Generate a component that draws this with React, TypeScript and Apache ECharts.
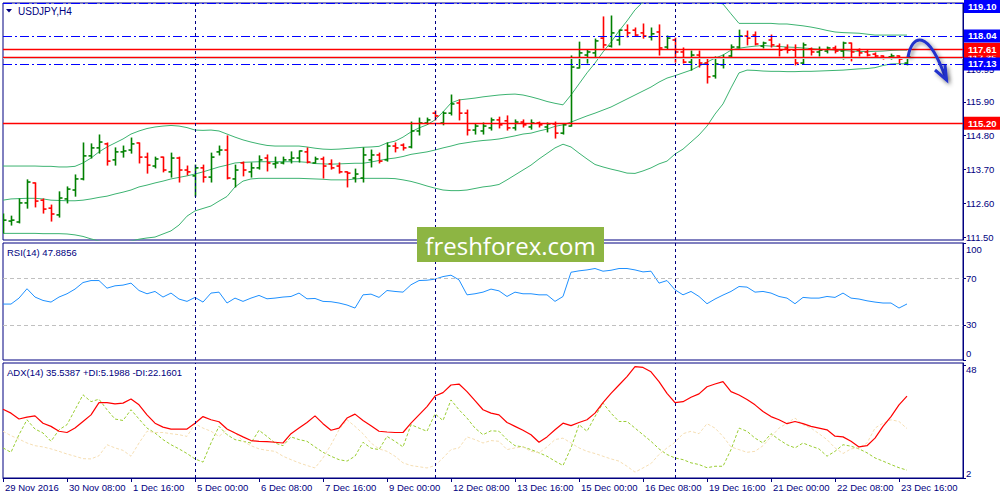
import { useEffect, useRef } from "react";
import * as echarts from "echarts";

// USDJPY H4 bars
const OPEN = [
  111.79, 112.02, 111.99, 112.61, 113.26, 112.7, 112.44, 112.22, 112.74, 113.03,
  113.39, 114.14, 114.4, 114.53, 114.01, 114.27, 114.33, 114.56, 114.1, 113.81,
  114.1, 113.62, 114.07, 113.68, 113.49, 113.75, 113.45, 114.27, 114.33, 113.39,
  113.91, 113.62, 113.75, 114.07, 113.88, 113.91, 114.01, 114.07, 114.27, 113.91,
  114.04, 113.88, 113.81, 113.62, 113.42, 113.42, 114.01, 114.17, 114.01, 114.46,
  114.49, 114.43, 114.95, 115.21, 115.53, 115.21, 115.53, 115.86, 115.53, 114.98,
  114.95, 115.05, 115.31, 115.28, 115.05, 115.24, 115.08, 115.21, 115.08, 115.18,
  114.88, 115.11, 117.0, 117.42, 117.49, 117.97, 117.71, 117.91, 118.23, 118.23,
  118.14, 118.01, 118.17, 117.68, 117.91, 117.52, 117.19, 117.42, 117.16, 116.74,
  117.1, 117.39, 117.68, 118.04, 118.07, 117.71, 117.91, 117.71, 117.65, 117.58,
  117.16, 117.62, 117.52, 117.55, 117.65, 117.55, 117.81, 117.58, 117.52, 117.45,
  117.39, 117.36, 117.39, 117.16,
];
const HIGH = [
  112.25, 112.18, 112.74, 113.36, 113.26, 112.74, 112.54, 112.97, 113.13, 113.52,
  114.56, 114.53, 114.82, 114.56, 114.4, 114.46, 114.72, 114.56, 114.23, 114.1,
  114.1, 114.23, 114.1, 113.81, 113.84, 113.84, 114.23, 114.46, 114.79, 113.84,
  113.94, 113.91, 114.14, 114.17, 114.1, 114.1, 114.27, 114.3, 114.4, 114.1,
  114.1, 114.01, 113.91, 113.62, 113.71, 114.4, 114.33, 114.23, 114.56, 114.56,
  114.53, 115.24, 115.37, 115.37, 115.6, 115.57, 116.12, 115.96, 115.63, 115.18,
  115.21, 115.37, 115.4, 115.44, 115.31, 115.31, 115.31, 115.24, 115.21, 115.24,
  115.18, 117.39, 117.84, 117.58, 117.94, 118.66, 118.69, 118.23, 118.4, 118.3,
  118.43, 118.3, 118.4, 118.04, 117.97, 117.65, 117.55, 117.55, 117.29, 117.36,
  117.42, 117.75, 118.23, 118.2, 118.17, 117.84, 118.07, 117.78, 117.75, 117.75,
  117.81, 117.65, 117.68, 117.68, 117.71, 117.84, 117.81, 117.62, 117.58, 117.49,
  117.39, 117.45, 117.39, 117.36,
];
const LOW = [
  111.63, 111.89, 111.96, 112.44, 112.48, 112.28, 112.02, 112.15, 112.61, 112.83,
  113.36, 114.07, 114.23, 113.84, 113.84, 114.1, 114.23, 113.91, 113.58, 113.75,
  113.62, 113.45, 113.29, 113.52, 112.83, 113.29, 113.29, 114.17, 113.39, 113.13,
  113.49, 113.45, 113.71, 113.65, 113.75, 113.88, 113.91, 113.94, 113.91, 113.91,
  113.42, 113.71, 113.58, 113.13, 113.29, 113.29, 113.78, 113.91, 113.97, 114.27,
  114.33, 114.4, 114.82, 115.18, 115.31, 115.15, 115.47, 115.31, 114.82, 114.85,
  114.85, 114.98, 115.05, 114.98, 114.98, 115.08, 115.01, 115.08, 114.92, 114.72,
  114.85, 115.11, 117.0, 117.16, 117.36, 117.65, 117.68, 117.75, 118.01, 118.04,
  117.97, 117.91, 117.42, 117.62, 117.19, 117.16, 116.93, 117.03, 116.51, 116.67,
  117.0, 117.36, 117.65, 117.75, 117.75, 117.65, 117.68, 117.39, 117.49, 117.1,
  117.13, 117.42, 117.39, 117.49, 117.49, 117.29, 117.23, 117.39, 117.39, 117.36,
  117.29, 117.29, 117.16, 117.1,
];
const CLOSE = [
  112.05, 112.05, 112.61, 113.29, 112.67, 112.41, 112.25, 112.77, 113.06, 113.39,
  114.14, 114.4, 114.59, 113.97, 114.27, 114.3, 114.53, 114.1, 113.84, 114.04,
  113.68, 114.07, 113.68, 113.62, 113.75, 113.45, 114.1, 114.33, 113.42, 113.68,
  113.68, 113.75, 114.01, 113.91, 113.91, 114.01, 114.07, 114.3, 113.94, 114.04,
  113.81, 113.75, 113.62, 113.58, 113.55, 114.17, 114.17, 113.97, 114.46, 114.4,
  114.4, 114.95, 115.21, 115.31, 115.44, 115.53, 115.83, 115.53, 114.98, 115.11,
  115.11, 115.31, 115.15, 115.05, 115.24, 115.15, 115.21, 115.15, 115.18, 114.88,
  115.15, 117.03, 117.49, 117.52, 117.88, 117.75, 118.14, 118.23, 118.14, 118.07,
  118.04, 118.11, 117.65, 117.97, 117.52, 117.19, 117.42, 117.16, 116.71, 117.13,
  117.32, 117.68, 118.04, 117.97, 117.78, 117.81, 117.75, 117.58, 117.58, 117.16,
  117.75, 117.52, 117.58, 117.65, 117.55, 117.81, 117.52, 117.49, 117.42, 117.39,
  117.32, 117.39, 117.29, 117.36,
];

// Bollinger bands
const BB_UPPER = [
  113.81, 113.81, 113.81, 113.81, 113.81, 113.8, 113.8, 113.78, 113.78, 113.8,
  113.91, 114.07, 114.27, 114.43, 114.56, 114.69, 114.85, 114.95, 115.03, 115.08,
  115.11, 115.13, 115.11, 115.06, 114.98, 114.97, 114.98, 114.95, 114.85, 114.75,
  114.66, 114.59, 114.53, 114.48, 114.46, 114.46, 114.46, 114.46, 114.43, 114.39,
  114.36, 114.35, 114.36, 114.38, 114.4, 114.42, 114.43, 114.45, 114.56, 114.62,
  114.75, 114.92, 115.05, 115.15, 115.31, 115.57, 115.86, 115.96, 115.99, 116.02,
  116.06, 116.09, 116.12, 116.14, 116.15, 116.12, 116.06, 115.99, 115.91, 115.85,
  115.8, 116.12, 116.48, 116.84, 117.16, 117.52, 117.84, 118.2, 118.53, 118.89,
  119.15, 119.34, 119.47, 119.54, 119.54, 119.47, 119.34, 119.24, 119.18, 119.15,
  119.08, 118.76, 118.45, 118.45, 118.45, 118.45, 118.45, 118.43, 118.43, 118.4,
  118.37, 118.33, 118.28, 118.22, 118.17, 118.15, 118.14, 118.13, 118.1, 118.07,
  118.07, 118.07, 118.07, 118.07,
];
const BB_MIDDLE = [
  112.7, 112.74, 112.75, 112.76, 112.76, 112.74, 112.7, 112.69, 112.68, 112.68,
  112.7, 112.74, 112.79, 112.83, 112.9, 112.96, 113.03, 113.13, 113.19, 113.26,
  113.32, 113.39, 113.44, 113.49, 113.55, 113.62, 113.7, 113.78, 113.84, 113.91,
  113.93, 113.94, 113.95, 113.95, 113.95, 113.95, 113.95, 113.95, 113.93, 113.89,
  113.88, 113.87, 113.88, 113.89, 113.9, 113.9, 113.94, 113.99, 114.04, 114.07,
  114.12, 114.19, 114.23, 114.27, 114.33, 114.4, 114.46, 114.53, 114.57, 114.61,
  114.64, 114.66, 114.69, 114.74, 114.79, 114.85, 114.88, 114.95, 115.01, 115.1,
  115.15, 115.24, 115.34, 115.44, 115.53, 115.63, 115.73, 115.86, 115.99, 116.12,
  116.25, 116.38, 116.54, 116.67, 116.75, 116.84, 116.93, 117.06, 117.19, 117.32,
  117.42, 117.58, 117.64, 117.68, 117.71, 117.73, 117.71, 117.7, 117.68, 117.67,
  117.65, 117.63, 117.61, 117.6, 117.58, 117.57, 117.55, 117.54, 117.53, 117.54,
  117.55, 117.57, 117.58, 117.58,
];
const BB_LOWER = [
  111.62, 111.62, 111.62, 111.62, 111.62, 111.61, 111.61, 111.61, 111.6, 111.57,
  111.52, 111.44, 111.37, 111.32, 111.31, 111.32, 111.37, 111.43, 111.47, 111.5,
  111.6, 111.7, 111.89, 112.18, 112.35, 112.43, 112.51, 112.67, 112.82, 113.13,
  113.32, 113.39, 113.41, 113.41, 113.41, 113.41, 113.41, 113.41, 113.4, 113.39,
  113.38, 113.36, 113.36, 113.36, 113.39, 113.41, 113.41, 113.41, 113.41, 113.4,
  113.36, 113.31, 113.24, 113.16, 113.09, 113.03, 113.01, 113.01, 113.03, 113.08,
  113.13, 113.16, 113.21, 113.36, 113.52, 113.68, 113.84, 114.04, 114.22, 114.4,
  114.52, 114.43, 114.23, 114.04, 113.86, 113.78, 113.71, 113.65, 113.58, 113.57,
  113.65, 113.75, 113.88, 113.97, 114.2, 114.36, 114.59, 114.82, 115.11, 115.5,
  115.83, 116.35, 116.84, 116.93, 116.92, 116.9, 116.89, 116.89, 116.88, 116.88,
  116.89, 116.89, 116.9, 116.91, 116.92, 116.93, 116.95, 116.97, 116.98, 117.01,
  117.08, 117.13, 117.14, 117.13,
];

const RSI = [
  47.8, 47.8, 52.9, 60.9, 53.8, 50.9, 49.5, 53.8, 56.6, 60.6,
  66.2, 67.9, 67.9, 61.4, 63.4, 64.0, 65.7, 59.4, 56.6, 58.6,
  53.8, 57.2, 52.1, 50.1, 53.5, 49.5, 57.2, 58.0, 48.7, 52.9,
  50.1, 52.9, 55.2, 52.3, 52.9, 53.8, 54.3, 57.2, 52.3, 52.6,
  50.1, 49.8, 48.7, 47.0, 44.4, 55.7, 56.3, 53.5, 59.4, 58.6,
  58.0, 64.3, 67.9, 68.2, 69.1, 71.3, 72.5, 68.5, 55.7, 56.6,
  58.0, 60.6, 59.1, 54.3, 58.0, 56.6, 56.6, 55.7, 55.7, 50.1,
  54.3, 75.0, 76.2, 77.0, 78.2, 75.9, 76.7, 78.2, 78.2, 77.0,
  75.3, 75.9, 65.7, 67.9, 60.0, 55.7, 58.6, 54.3, 48.1, 52.1,
  55.5, 58.6, 62.8, 62.3, 58.0, 58.6, 57.2, 54.3, 52.9, 48.1,
  53.5, 52.9, 52.9, 54.3, 53.5, 57.2, 52.9, 52.1, 50.6, 49.5,
  48.7, 48.7, 44.4, 47.9,
];

const ADX = [
  30.1, 28.5, 26.1, 26.9, 27.4, 24.4, 23.1, 21.1, 20.6, 22.4,
  25.1, 27.8, 32.8, 32.8, 32.3, 32.6, 34.3, 31.9, 27.8, 24.4,
  22.8, 22.0, 22.0, 22.0, 24.4, 27.1, 25.8, 25.0, 22.0, 20.4,
  18.8, 17.3, 17.0, 16.9, 16.6, 16.3, 20.1, 22.4, 24.7, 27.4,
  24.2, 21.5, 22.4, 26.5, 28.1, 25.5, 23.4, 21.1, 20.8, 20.6,
  20.6, 24.4, 27.8, 31.2, 35.5, 36.9, 40.0, 40.4, 37.3, 33.6,
  29.9, 28.5, 27.8, 24.7, 23.1, 21.5, 19.7, 16.6, 18.8, 21.7,
  24.4, 23.4, 24.7, 25.8, 28.5, 32.8, 36.6, 40.0, 43.4, 47.5,
  47.2, 45.4, 41.4, 36.6, 32.8, 33.2, 35.0, 36.4, 39.3, 40.4,
  41.4, 37.3, 35.9, 34.1, 31.9, 29.2, 27.1, 25.8, 24.2, 25.1,
  24.2, 23.1, 22.4, 21.7, 19.1, 18.8, 17.0, 14.7, 15.2, 18.3,
  23.1, 27.1, 31.9, 35.5,
];
const PLUS_DI = [
  14.3, 12.5, 19.7, 25.8, 22.0, 20.4, 17.0, 21.7, 23.8, 29.9,
  36.0, 33.2, 34.2, 29.9, 26.1, 25.5, 29.9, 26.1, 22.4, 20.4,
  17.7, 15.6, 13.9, 12.0, 9.8, 8.5, 16.3, 23.1, 19.7, 17.7,
  17.0, 16.3, 21.5, 19.0, 16.3, 15.2, 18.8, 17.7, 17.0, 14.7,
  12.5, 10.9, 9.5, 8.9, 10.9, 16.6, 14.2, 13.6, 19.0, 17.0,
  14.7, 23.8, 22.4, 21.1, 28.2, 25.5, 33.9, 29.9, 26.5, 22.4,
  19.7, 21.3, 21.1, 17.7, 15.2, 14.7, 13.6, 12.3, 10.9, 8.9,
  7.1, 14.3, 23.8, 21.1, 27.1, 32.6, 28.5, 25.1, 25.1, 22.4,
  19.7, 17.0, 13.9, 11.6, 10.2, 9.5, 8.2, 7.5, 6.2, 6.8,
  6.8, 13.6, 22.4, 21.1, 18.3, 16.3, 20.1, 17.7, 15.6, 14.3,
  16.3, 15.0, 13.9, 10.9, 12.9, 15.6, 15.0, 13.9, 12.3, 10.2,
  8.9, 7.5, 6.2, 5.2,
];
const MINUS_DI = [
  21.1, 19.3, 17.9, 16.3, 15.2, 14.7, 13.9, 12.9, 11.8, 10.9,
  9.9, 9.8, 11.1, 15.6, 14.3, 13.3, 10.9, 16.3, 21.1, 20.6,
  20.6, 20.1, 19.7, 19.0, 24.2, 22.4, 21.1, 19.0, 21.7, 20.6,
  17.0, 15.2, 13.9, 13.3, 12.9, 10.9, 9.5, 8.2, 7.1, 6.1,
  10.2, 15.6, 21.7, 25.8, 23.1, 20.1, 16.3, 13.9, 12.9, 10.9,
  8.2, 7.1, 6.6, 6.1, 7.1, 10.2, 13.6, 14.3, 18.8, 17.7,
  16.3, 17.3, 17.0, 13.6, 14.3, 14.7, 12.9, 12.3, 14.7, 17.7,
  18.3, 16.3, 14.3, 12.9, 12.0, 10.9, 9.8, 8.9, 6.8, 4.4,
  6.1, 7.9, 11.6, 14.3, 16.6, 20.1, 21.1, 20.1, 24.2, 22.4,
  19.0, 14.7, 13.6, 12.5, 12.9, 15.2, 18.8, 22.4, 24.4, 26.5,
  23.8, 22.4, 20.1, 17.7, 14.3, 12.0, 13.9, 14.3, 16.3, 22.4,
  24.4, 25.8, 25.1, 22.2,
];

// horizontal levels drawn on the price pane
const RED_LEVELS = [115.2, 117.35, 117.61];
const BLUE_LEVELS = [119.1, 118.04, 117.13];
const BID = 117.32;

const PRICE_TICKS = [111.5, 112.6, 113.7, 114.8, 115.9, 116.95];
const RSI_TICKS = [0, 30, 70, 100];
const RSI_LEVELS = [30, 70];
const ADX_TICKS = [2, 48];

// weekly separators (Monday 00:00 bars)
const WEEK_STARTS = [24, 54, 84];

const MONTHS = ["Jan", "Feb", "Mar", "Apr", "May", "Jun", "Jul", "Aug", "Sep", "Oct", "Nov", "Dec"];

// H4 bar times from 29 Nov 2016, weekends skipped
function buildCategories(count: number) {
  const out: string[] = [];
  let t = Date.UTC(2016, 10, 29, 0);
  while (out.length < count) {
    const d = new Date(t);
    const wd = d.getUTCDay();
    if (wd !== 0 && wd !== 6) {
      const hh = String(d.getUTCHours()).padStart(2, "0");
      out.push(
        out.length === 0
          ? `${d.getUTCDate()} ${MONTHS[d.getUTCMonth()]} ${d.getUTCFullYear()}`
          : `${d.getUTCDate()} ${MONTHS[d.getUTCMonth()]} ${hh}:00`
      );
    }
    t += 4 * 3600 * 1000;
  }
  return out;
}

const CATEGORIES = buildCategories(121);

const NAVY = "#000080";
const GREEN = "#008000";
const RED = "#ff0000";
const BLUE = "#0000ff";
const BAND = "#3cb371";
const FONT = '"Liberation Sans", Arial, sans-serif';

export default function App() {
  const chartRef = useRef<HTMLDivElement>(null);

  useEffect(() => {
    if (!chartRef.current) return;
    const chart = echarts.init(chartRef.current, null, { renderer: "svg" });

    const showTick = (idx: number) => idx % 8 === 0 && idx <= 112;
    const baseX = (gridIndex: number) => ({
      type: "category",
      gridIndex,
      data: CATEGORIES,
      boundaryGap: false,
      show: gridIndex === 2,
      axisLine: { show: true, lineStyle: { color: NAVY } },
      axisTick: { show: true, interval: (i: number) => showTick(i), length: 4, lineStyle: { color: NAVY } },
      axisLabel: {
        interval: (i: number) => showTick(i),
        align: "left",
        padding: [0, 0, 0, 2],
        margin: 4,
        color: NAVY,
        fontSize: 9.5,
        fontFamily: FONT,
      },
      splitLine: { show: false },
    });

    const labelStyle = { color: NAVY, fontSize: 9.5, fontFamily: FONT };
    const weekLines = {
      symbol: "none",
      silent: true,
      label: { show: false },
      lineStyle: { color: NAVY, type: [3, 3], width: 1 },
      data: WEEK_STARTS.map((i) => ({ xAxis: CATEGORIES[i] })),
    };

    const levelLabel = (bg: string) => ({
      show: true,
      position: "end",
      distance: 1,
      formatter: (p: any) => Number(p.value).toFixed(2),
      color: "#fff",
      backgroundColor: bg,
      padding: [2, 4, 1, 4],
      fontSize: 9.5,
      fontWeight: "bold",
      fontFamily: FONT,
    });

    const bars = OPEN.map((o, i) => [i, o, HIGH[i], LOW[i], CLOSE[i]]);

    chart.setOption({
      animation: false,
      backgroundColor: "#ffffff",
      grid: [
        { left: 3, top: 3, width: 960, height: 237, show: true, borderColor: NAVY, borderWidth: 1 },
        { left: 3, top: 243, width: 960, height: 117, show: true, borderColor: NAVY, borderWidth: 1 },
        { left: 3, top: 363, width: 960, height: 115, show: true, borderColor: NAVY, borderWidth: 1 },
      ],
      xAxis: [baseX(0), baseX(1), baseX(2)],
      yAxis: [
        {
          type: "value",
          gridIndex: 0,
          position: "right",
          min: 111.404,
          max: 119.113,
          splitLine: { show: false },
          axisLine: { show: true, lineStyle: { color: NAVY } },
          axisTick: { show: true, length: 3, customValues: PRICE_TICKS, lineStyle: { color: NAVY } },
          axisLabel: { ...labelStyle, margin: 3, customValues: PRICE_TICKS, formatter: (v: number) => v.toFixed(2) },
        },
        {
          type: "value",
          gridIndex: 1,
          position: "right",
          min: 0,
          max: 100,
          splitLine: { show: false },
          axisLine: { show: true, lineStyle: { color: NAVY } },
          axisTick: { show: true, length: 3, customValues: RSI_TICKS, lineStyle: { color: NAVY } },
          axisLabel: {
            ...labelStyle,
            margin: 3,
            customValues: RSI_TICKS,
            formatter: (v: number) => (v === 100 ? "{top|100}" : v === 0 ? "{bot|0}" : String(v)),
            rich: {
              top: { ...labelStyle, padding: [12, 0, 0, 0] },
              bot: { ...labelStyle, padding: [0, 0, 14, 0] },
            },
          },
        },
        {
          type: "value",
          gridIndex: 2,
          position: "right",
          min: 2,
          max: 49,
          splitLine: { show: false },
          axisLine: { show: true, lineStyle: { color: NAVY } },
          axisTick: { show: true, length: 3, customValues: ADX_TICKS, lineStyle: { color: NAVY } },
          axisLabel: {
            ...labelStyle,
            margin: 3,
            customValues: ADX_TICKS,
            formatter: (v: number) => (v === 48 ? "{top|48}" : "{bot|2}"),
            rich: {
              top: { ...labelStyle, padding: [8, 0, 0, 0] },
              bot: { ...labelStyle, padding: [0, 0, 10, 0] },
            },
          },
        },
      ],
      series: [
        {
          name: "BB upper",
          type: "line",
          xAxisIndex: 0,
          yAxisIndex: 0,
          data: BB_UPPER,
          symbol: "none",
          lineStyle: { color: BAND, width: 1 },
          z: 2,
          markLine: {
            symbol: "none",
            silent: true,
            lineStyle: { color: RED, type: "solid", width: 1.4, opacity: 1 },
            label: levelLabel(RED),
            data: RED_LEVELS.map((v) => ({ yAxis: v, lineStyle: { color: RED } })),
          },
        },
        {
          name: "BB middle",
          type: "line",
          xAxisIndex: 0,
          yAxisIndex: 0,
          data: BB_MIDDLE,
          symbol: "none",
          lineStyle: { color: BAND, width: 1 },
          z: 2,
          markLine: {
            symbol: "none",
            silent: true,
            lineStyle: { color: BLUE, type: [9, 3, 2, 3], width: 1.2, opacity: 1 },
            label: levelLabel(BLUE),
            data: BLUE_LEVELS.map((v) => (v === 119.1 ? { yAxis: v, label: { offset: [0, 3] } } : { yAxis: v })),
          },
        },
        {
          name: "BB lower",
          type: "line",
          xAxisIndex: 0,
          yAxisIndex: 0,
          data: BB_LOWER,
          symbol: "none",
          lineStyle: { color: BAND, width: 1 },
          z: 2,
          markLine: weekLines,
        },
        {
          name: "USDJPY",
          type: "custom",
          xAxisIndex: 0,
          yAxisIndex: 0,
          clip: true,
          z: 3,
          data: bars,
          encode: { x: 0, y: [1, 2, 3, 4] },
          markLine: {
            symbol: "none",
            silent: true,
            label: { show: false },
            lineStyle: { color: "#c8c8c8", type: "solid", width: 1 },
            data: [{ yAxis: BID }],
          },
          renderItem: (_params: any, api: any) => {
            const i = api.value(0);
            const o = api.value(1);
            const c = api.value(4);
            const ph = api.coord([i, api.value(2)]);
            const pl = api.coord([i, api.value(3)]);
            const po = api.coord([i, o]);
            const pc = api.coord([i, c]);
            const color = c >= o ? GREEN : RED;
            const x = Math.round(ph[0]) + 0.5;
            const st = { stroke: color, lineWidth: 1.6 };
            return {
              type: "group",
              children: [
                { type: "line", shape: { x1: x, y1: ph[1] - 0.5, x2: x, y2: pl[1] + 0.5 }, style: st },
                { type: "line", shape: { x1: x - 3, y1: po[1], x2: x, y2: po[1] }, style: st },
                { type: "line", shape: { x1: x, y1: pc[1], x2: x + 3, y2: pc[1] }, style: st },
              ],
            };
          },
        },
        {
          name: "RSI(14)",
          type: "line",
          xAxisIndex: 1,
          yAxisIndex: 1,
          data: RSI,
          symbol: "none",
          lineStyle: { color: "#1e90ff", width: 1 },
          markLine: {
            symbol: "none",
            silent: true,
            label: { show: false },
            data: [
              ...RSI_LEVELS.map((v) => ({ yAxis: v, lineStyle: { color: "#c0c0c0", type: [4, 3], width: 1 } })),
              ...WEEK_STARTS.map((i) => ({ xAxis: CATEGORIES[i], lineStyle: { color: NAVY, type: [3, 3], width: 1 } })),
            ],
          },
        },
        {
          name: "+DI",
          type: "line",
          xAxisIndex: 2,
          yAxisIndex: 2,
          data: PLUS_DI,
          symbol: "none",
          lineStyle: { color: "#9acd32", width: 1, type: [3, 2] },
        },
        {
          name: "-DI",
          type: "line",
          xAxisIndex: 2,
          yAxisIndex: 2,
          data: MINUS_DI,
          symbol: "none",
          lineStyle: { color: "#f5deb3", width: 1, type: [3, 2] },
        },
        {
          name: "ADX(14)",
          type: "line",
          xAxisIndex: 2,
          yAxisIndex: 2,
          data: ADX,
          symbol: "none",
          lineStyle: { color: RED, width: 1.2 },
          markLine: weekLines,
        },
      ],
      graphic: [
        { type: "polygon", z: 100, shape: { points: [[6, 9], [12, 9], [9, 12.5]] }, style: { fill: NAVY } },
        {
          type: "text",
          z: 100,
          x: 18,
          y: 11,
          style: { text: "USDJPY,H4", fill: NAVY, font: `10px ${FONT}`, verticalAlign: "middle", textVerticalAlign: "middle" },
        },
        {
          type: "text",
          z: 100,
          x: 7,
          y: 252,
          style: { text: "RSI(14) 47.8856", fill: NAVY, font: `9.5px ${FONT}`, verticalAlign: "middle", textVerticalAlign: "middle" },
        },
        {
          type: "text",
          z: 100,
          x: 7,
          y: 372,
          style: {
            text: "ADX(14) 35.5387 +DI:5.1988 -DI:22.1601",
            fill: NAVY,
            font: `9.5px ${FONT}`,
            verticalAlign: "middle",
            textVerticalAlign: "middle",
          },
        },
        {
          type: "rect",
          z: 100,
          shape: { x: 417, y: 227, width: 187, height: 35 },
          style: { fill: "#8db543" },
        },
        {
          type: "text",
          z: 101,
          x: 510.5,
          y: 245,
          style: {
            text: "freshforex.com",
            fill: "#ffffff",
            font: `24px "Open Sans", sans-serif`,
            align: "center",
            textAlign: "center",
            verticalAlign: "middle",
            textVerticalAlign: "middle",
          },
        },
        {
          type: "bezierCurve",
          z: 100,
          shape: { x1: 908, y1: 57, cpx1: 912, cpy1: 34, cpx2: 928, cpy2: 28, x2: 946, y2: 79 },
          style: { stroke: "#2233cc", lineWidth: 3, fill: "none", shadowBlur: 4, shadowColor: "rgba(0,0,0,0.45)", shadowOffsetX: 2, shadowOffsetY: 2 },
        },
        {
          type: "polyline",
          z: 100,
          shape: { points: [[935, 70], [946.5, 80], [945, 65]] },
          style: { stroke: "#2233cc", lineWidth: 3, fill: "none", shadowBlur: 4, shadowColor: "rgba(0,0,0,0.45)", shadowOffsetX: 2, shadowOffsetY: 2 },
        },
      ],
    });

    return () => {
      chart.dispose();
    };
  }, []);

  return (
    <div
      ref={chartRef}
      style={{ position: "fixed", left: 0, top: 0, width: "1000px", height: "500px", background: "#fff" }}
    />
  );
}
